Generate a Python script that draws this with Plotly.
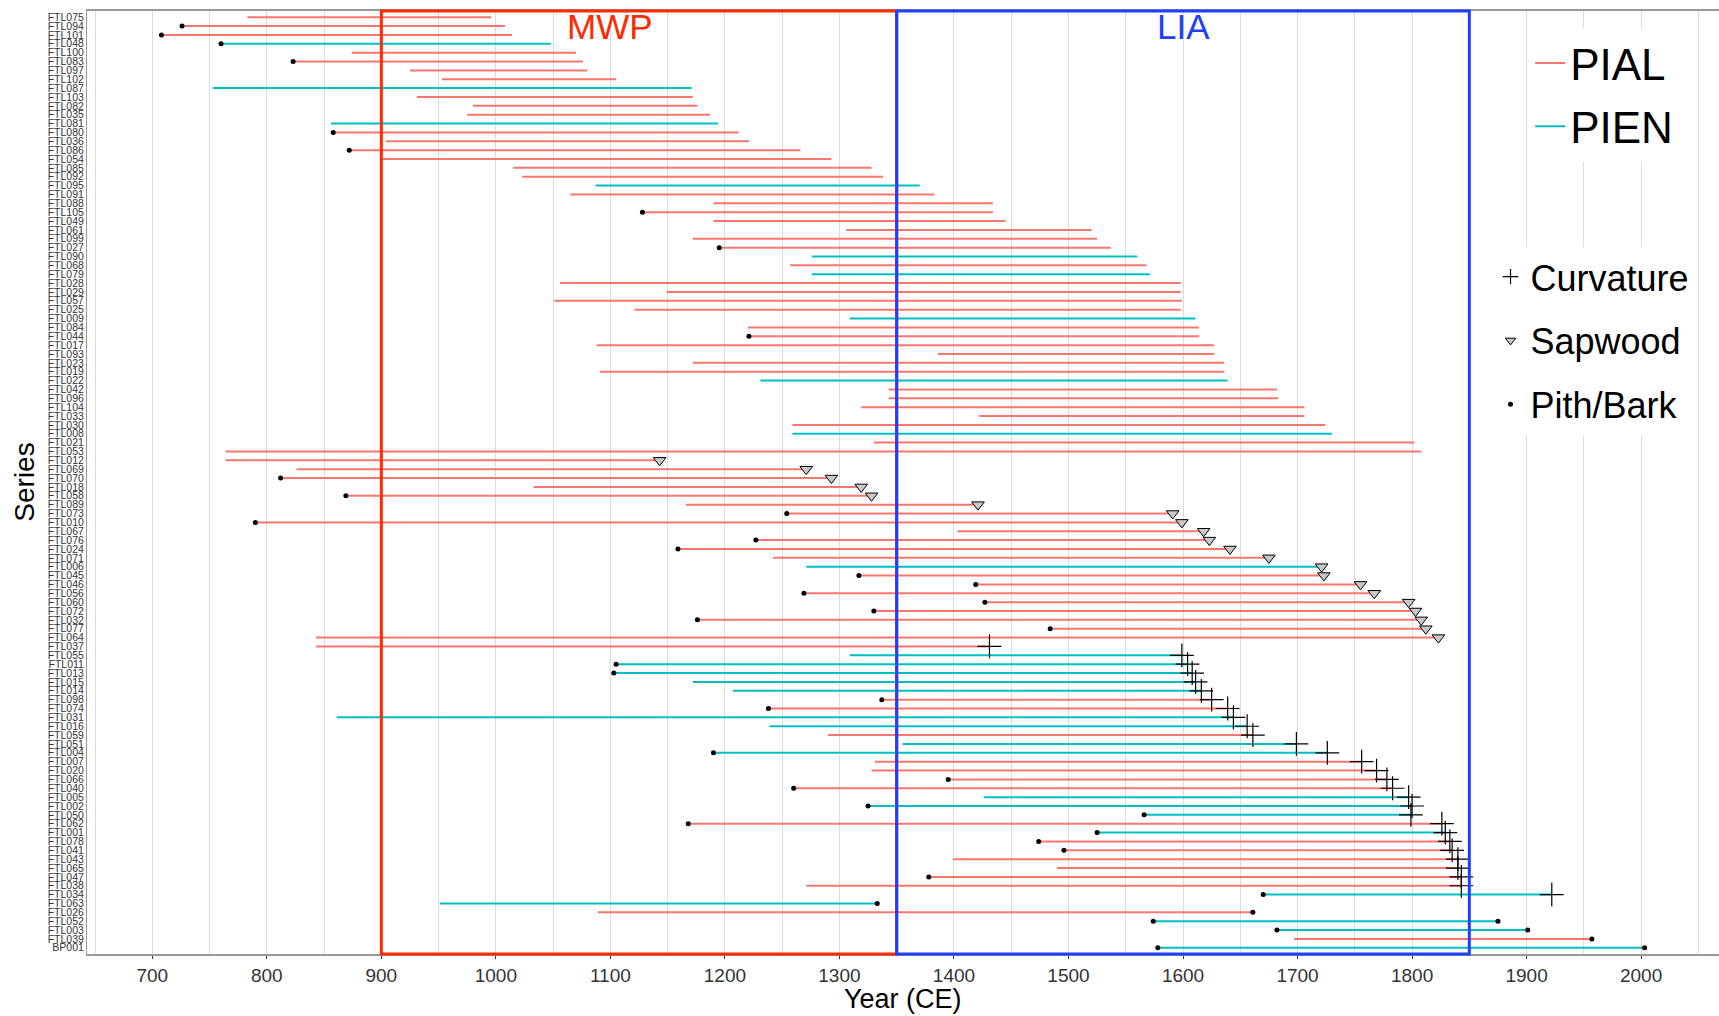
import plotly.graph_objects as go

series = ["FTL075","FTL094","FTL101","FTL048","FTL100","FTL083","FTL097","FTL102","FTL087","FTL103",
"FTL082","FTL035","FTL081","FTL080","FTL036","FTL086","FTL054","FTL085","FTL092","FTL095",
"FTL091","FTL088","FTL105","FTL049","FTL061","FTL099","FTL027","FTL090","FTL068","FTL079",
"FTL028","FTL029","FTL057","FTL025","FTL009","FTL084","FTL044","FTL017","FTL093","FTL023",
"FTL019","FTL022","FTL042","FTL096","FTL104","FTL033","FTL030","FTL008","FTL021","FTL053",
"FTL012","FTL069","FTL070","FTL018","FTL058","FTL089","FTL073","FTL010","FTL067","FTL076",
"FTL024","FTL071","FTL006","FTL045","FTL046","FTL056","FTL060","FTL072","FTL032","FTL077",
"FTL064","FTL037","FTL055","FTL011","FTL013","FTL015","FTL014","FTL098","FTL074","FTL031",
"FTL016","FTL059","FTL051","FTL004","FTL007","FTL020","FTL066","FTL040","FTL005","FTL002",
"FTL050","FTL062","FTL001","FTL078","FTL041","FTL043","FTL065","FTL047","FTL038","FTL034",
"FTL063","FTL026","FTL052","FTL003","FTL039","BP001"]

# species: A = PIAL, E = PIEN
species = list("AAAEAAAAEA" "AAEAAAAAAE" "AAAAAAAEAE" "AAAAEAAAAA" "AEAAAAAEAA"
               "AAAAAAAAAA" "AAEAAAAAAA" "AAEEEEEAAE" "EAEEAAAAEE" "EAEAAAAAAE"
               "EAEEAE")
start = [783,726,708,760,874,823,925,953,753,931,
         980,975,856,858,904,872,900,1015,1023,1087,
         1065,1190,1128,1190,1306,1172,1195,1276,1257,1276,
         1056,1149,1051,1121,1309,1220,1221,1088,1386,1172,
         1091,1231,1343,1343,1319,1422,1259,1259,1330,764,
         764,826,812,1033,869,1166,1254,790,1403,1227,
         1159,1242,1271,1317,1419,1269,1427,1330,1176,1484,
         843,843,1309,1105,1103,1172,1207,1337,1238,861,
         1239,1290,1355,1190,1331,1328,1395,1260,1426,1325,
         1566,1168,1525,1474,1496,1399,1490,1378,1271,1670,
         951,1089,1574,1682,1697,1578]
end = [996,1008,1014,1048,1070,1076,1080,1105,1171,1172,
       1176,1187,1194,1212,1221,1266,1293,1328,1338,1370,
       1383,1434,1434,1445,1520,1525,1537,1560,1568,1571,
       1598,1598,1599,1598,1611,1614,1614,1627,1627,1636,
       1636,1639,1682,1683,1706,1706,1724,1730,1802,1808,
       1143,1271,1293,1319,1328,1421,1591,1599,1618,1623,
       1641,1675,1721,1723,1755,1767,1797,1803,1808,1812,
       1823,1431,1599,1604,1608,1611,1616,1625,1639,1644,
       1656,1661,1699,1726,1756,1769,1778,1783,1797,1800,
       1799,1826,1829,1833,1835,1840,1840,1843,1843,1922,
       1333,1661,1875,1901,1957,2003]
# end marker: S = sapwood, C = curvature, B = bark, - = none
end_type = list("----------" "----------" "----------" "----------" "----------"
                "SSSSSSSSSS" "SSSSSSSSSS" "SCCCCCCCCC" "CCCCCCCCCC" "CCCCCCCCCC"
                "BBBBBB")
# pith dot at start: 1 = yes
pith = [0,1,1,1,0,1,0,0,0,0,
        0,0,0,1,0,1,0,0,0,0,
        0,0,1,0,0,0,1,0,0,0,
        0,0,0,0,0,0,1,0,0,0,
        0,0,0,0,0,0,0,0,0,0,
        0,0,1,0,1,0,1,1,0,1,
        1,0,0,1,1,1,1,1,1,1,
        0,0,0,1,1,0,0,1,1,0,
        0,0,0,1,0,0,1,1,0,1,
        1,1,1,1,1,0,0,1,0,1,
        0,0,1,1,0,1]

COL = {"A": "#F8766D", "E": "#00BFC4"}
NAME = {"A": "PIAL", "E": "PIEN"}

fig = go.Figure()

for sp in ["A", "E"]:
    xs, ys = [], []
    for s, sp_i, a, b in zip(series, species, start, end):
        if sp_i == sp:
            xs += [a, b, None]
            ys += [s, s, None]
    fig.add_trace(go.Scatter(x=xs, y=ys, mode="lines", name=NAME[sp],
                             line=dict(color=COL[sp], width=2),
                             legend="legend", legendgroup=NAME[sp], showlegend=True))

cx = [b for b, t in zip(end, end_type) if t == "C"]
cy = [s for s, t in zip(series, end_type) if t == "C"]
sx = [b for b, t in zip(end, end_type) if t == "S"]
sy = [s for s, t in zip(series, end_type) if t == "S"]
px = [a for a, p in zip(start, pith) if p] + [b for b, t in zip(end, end_type) if t == "B"]
py = [s for s, p in zip(series, pith) if p] + [s for s, t in zip(series, end_type) if t == "B"]

CROSS = dict(symbol="cross-thin-open", line=dict(color="black", width=1.2), color="black")
TRI = dict(symbol="triangle-down", color="#c8c8c8", line=dict(color="black", width=1))
DOT = dict(symbol="circle", color="black")

fig.add_trace(go.Scatter(x=cx, y=cy, mode="markers", showlegend=False,
                         marker=dict(size=17, **CROSS)))
fig.add_trace(go.Scatter(x=sx, y=sy, mode="markers", showlegend=False,
                         marker=dict(size=11, **TRI)))
fig.add_trace(go.Scatter(x=px, y=py, mode="markers", showlegend=False,
                         marker=dict(size=5, **DOT)))
# legend entries
fig.add_trace(go.Scatter(x=[None], y=[None], mode="markers", name="Curvature", legend="legend2",
                         legendgroup="c", marker=dict(size=11, **CROSS)))
fig.add_trace(go.Scatter(x=[None], y=[None], mode="markers", name="Sapwood", legend="legend2",
                         legendgroup="s", marker=dict(size=9, **TRI)))
fig.add_trace(go.Scatter(x=[None], y=[None], mode="markers", name="Pith/Bark", legend="legend2",
                         legendgroup="p", marker=dict(size=5, **DOT)))

n = len(series)
fig.add_shape(type="rect", xref="x", yref="paper", x0=900, x1=1350, y0=0, y1=1,
              line=dict(color="#ff2a00", width=3), layer="above")
fig.add_shape(type="rect", xref="x", yref="paper", x0=1350, x1=1850, y0=0, y1=1,
              line=dict(color="#1f3fff", width=3), layer="above")

fig.add_annotation(x=1100, y=1.006, xref="x", yref="paper", text="MWP", showarrow=False,
                   yanchor="top", font=dict(size=35, color="#ff2a00"))
fig.add_annotation(x=1600, y=1.006, xref="x", yref="paper", text="LIA", showarrow=False,
                   yanchor="top", font=dict(size=35, color="#1f3fff"))
fig.add_annotation(x=0.5, y=-(1015 - 954) / 943, xref="paper", yref="paper", text="Year (CE)",
                   showarrow=False, yanchor="bottom", height=27, valign="bottom", borderpad=0,
                   font=dict(size=27, color="black"))
fig.add_annotation(x=-0.0385, y=0.5, xref="paper", yref="paper", text="Series", showarrow=False,
                   textangle=-90, xanchor="center", yanchor="middle", font=dict(size=28, color="black"))

fig.update_layout(
    width=1719, height=1016,
    margin=dict(l=87, r=0, t=11, b=62),
    plot_bgcolor="white", paper_bgcolor="white",
    font=dict(family="Liberation Sans", color="black"),
    legend=dict(x=0.975, y=0.982, xanchor="right", yanchor="top", bgcolor="white",
                font=dict(size=44), itemwidth=30, tracegroupgap=3),
    legend2=dict(x=0.985, y=0.75, xanchor="right", yanchor="top", bgcolor="white",
                 font=dict(size=36), itemwidth=30, tracegroupgap=14),
)
fig.update_xaxes(range=[643, 2068], tickmode="linear", tick0=700, dtick=100,
                 showgrid=True, gridcolor="#dcdcdc", gridwidth=1,
                 minor=dict(dtick=50, tick0=650, showgrid=True, gridcolor="#dcdcdc", gridwidth=1),
                 ticks="outside", ticklen=3, tickcolor="#333",
                 tickfont=dict(size=19, color="#333"),
                 showline=True, linecolor="#999", linewidth=2, mirror=True, zeroline=False)
fig.update_yaxes(type="category", categoryorder="array", categoryarray=series,
                 tickmode="array", tickvals=series, ticktext=series,
                 range=[n - 1 + 0.7, -0.7], showgrid=False,
                 tickfont=dict(size=10.5, family="Liberation Sans", color="#333"),
                 ticks="", showline=True, linecolor="#999", linewidth=1, mirror=True)

fig.write_html("out.html")
